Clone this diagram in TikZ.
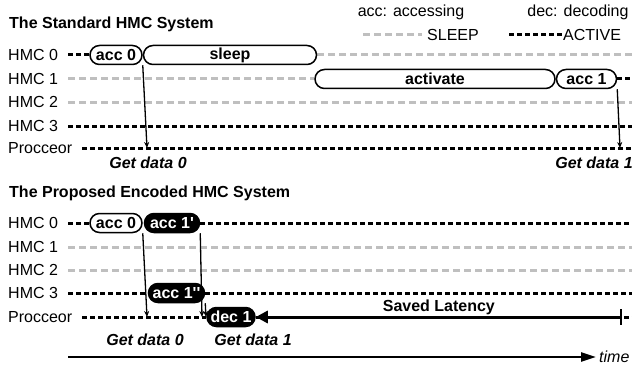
\documentclass[tikz,border=0pt]{standalone}
\usepackage{fontspec}
\setmainfont{Liberation Sans}
\usetikzlibrary{arrows.meta,positioning,backgrounds}

\begin{document}
\begin{tikzpicture}[
    x=1pt, y=-1pt,
    font=\fontsize{16}{19}\selectfont,
    lbl/.style={anchor=west, inner sep=0pt},
    pill/.style={draw=black, fill=white, line width=1.5pt, rounded corners=9.5pt, minimum height=19pt, inner sep=0pt, font=\fontsize{16}{19}\selectfont\bfseries},
    dpill/.style={pill, fill=black, text=white},
    active/.style={line width=3pt, dash pattern=on 5pt off 3pt, black},
    sleepln/.style={line width=3pt, dash pattern=on 6.5pt off 4.5pt, black!25},
    getlbl/.style={inner sep=0pt, font=\fontsize{16}{19}\selectfont\bfseries\itshape},
    fetch/.style={-{Stealth[length=6pt,width=5pt]}, line width=1.3pt}
]
\useasboundingbox (0,0) rectangle (632,369);
\coordinate (edge) at (632,0);

% Legend
\node at (411,12) {acc: accessing};
\node at (578,12) {dec: decoding};
\node[lbl] (lsl) at (427,35) {SLEEP};
\node[lbl] (lac) at (563,35) {ACTIVE};
\draw[sleepln] (363,35) -- ([xshift=-5pt]lsl.west);
\draw[active] (509,35) -- (lac.west);

% Standard system
\node[lbl, font=\fontsize{16}{19}\selectfont\bfseries] (t1) at (9,24) {The Standard HMC System};
\node[lbl] (h0) at (8,55) {HMC 0};
\node[lbl] (h1) at (8,79) {HMC 1};
\node[lbl] (h2) at (8,102) {HMC 2};
\node[lbl] (h3) at (8,126) {HMC 3};
\node[lbl] (pr) at (8,148) {Procceor};

\node[pill, minimum width=52pt] (a0) at (116,55) {acc 0};
\node[pill, minimum width=173pt, right=0pt of a0] (sl) {sleep};
\node[pill, minimum width=240pt] (act) at (435,79) {activate};
\node[pill, minimum width=60pt, right=0pt of act] (ac1) {acc 1};

\coordinate (p0) at (147,148);
\coordinate (p1) at (620,148);
\node[getlbl] (g0) at (148,163) {Get data 0};
\node[getlbl] (g1) at (594,163) {Get data 1};

% Proposed system
\node[lbl, font=\fontsize{16}{19}\selectfont\bfseries] (t2) at (9,193) {The Proposed Encoded HMC System};
\node[lbl] (k0) at (8,223) {HMC 0};
\node[lbl] (k1) at (8,247) {HMC 1};
\node[lbl] (k2) at (8,270) {HMC 2};
\node[lbl] (k3) at (8,293) {HMC 3};
\node[lbl] (kp) at (8,317) {Procceor};

\node[pill, minimum width=52pt] (b0) at (116,223) {acc 0};
\node[dpill, minimum width=55pt, right=1pt of b0] (b1) {acc 1\textquotesingle};
\node[dpill, minimum width=56pt] (b2) at (176.5,293) {acc 1\textquotesingle\textquotesingle};
\node[dpill, minimum width=48pt] (d1) at (231,317) {dec 1};

\coordinate (q0) at (147,317);
\coordinate (q1) at (202,317);
\coordinate (q2) at (206,317);
\coordinate (tk) at (622,317);
\node[getlbl] (g2) at (145,340) {Get data 0};
\node[getlbl] (g3) at (253,340) {Get data 1};

% Time axis
\coordinate (t0) at (68,357);
\node[lbl, font=\fontsize{16}{19}\selectfont\itshape] (tm) at (599,357) {time};
\draw[line width=2.2pt, -{Triangle[length=15pt,width=9pt]}] (t0) -- ([xshift=-3pt]tm.west);

\begin{scope}[on background layer]
% rows, standard
\draw[active] ([xshift=10pt]h0.east) -- (a0.west);
\draw[sleepln] (sl.east) -- (h0 -| edge);
\draw[sleepln] ([xshift=10pt]h1.east) -- (act.west);
\draw[active] (ac1.east) -- (h1 -| edge);
\draw[sleepln] ([xshift=10pt]h2.east) -- (h2 -| edge);
\draw[active] ([xshift=10pt]h3.east) -- (h3 -| edge);
\draw[active] ([xshift=10pt]pr.east) -- (pr -| edge);
\draw[fetch] (a0.south east) -- (p0);
\draw[fetch] (ac1.south east) -- (p1);

% rows, proposed
\draw[active] ([xshift=10pt]k0.east) -- (b0.west);
\draw[active] (b1.east) -- (k0 -| edge);
\draw[sleepln] ([xshift=10pt]k1.east) -- (k1 -| edge);
\draw[sleepln] ([xshift=10pt]k2.east) -- (k2 -| edge);
\draw[active] ([xshift=10pt]k3.east) -- (b2.west);
\draw[active] (b2.east) -- (k3 -| edge);
\draw[active] ([xshift=10pt]kp.east) -- (d1.west);
\draw[active] (d1.east) -- (kp -| edge);
\draw[fetch] (b0.south east) -- (q0);
\draw[fetch] (b1.south east) -- (q1);
\draw[fetch] (b2.south east) -- (q2);
\end{scope}

% Saved latency
\draw[line width=3pt, {Triangle[length=12pt,width=12pt]}-{Bar[width=16pt,line width=2.5pt]}] (d1.east) -- (tk)
    node[midway, above=0pt, inner sep=1pt, font=\fontsize{16}{19}\selectfont\bfseries] {Saved Latency};

\end{tikzpicture}
\end{document}
